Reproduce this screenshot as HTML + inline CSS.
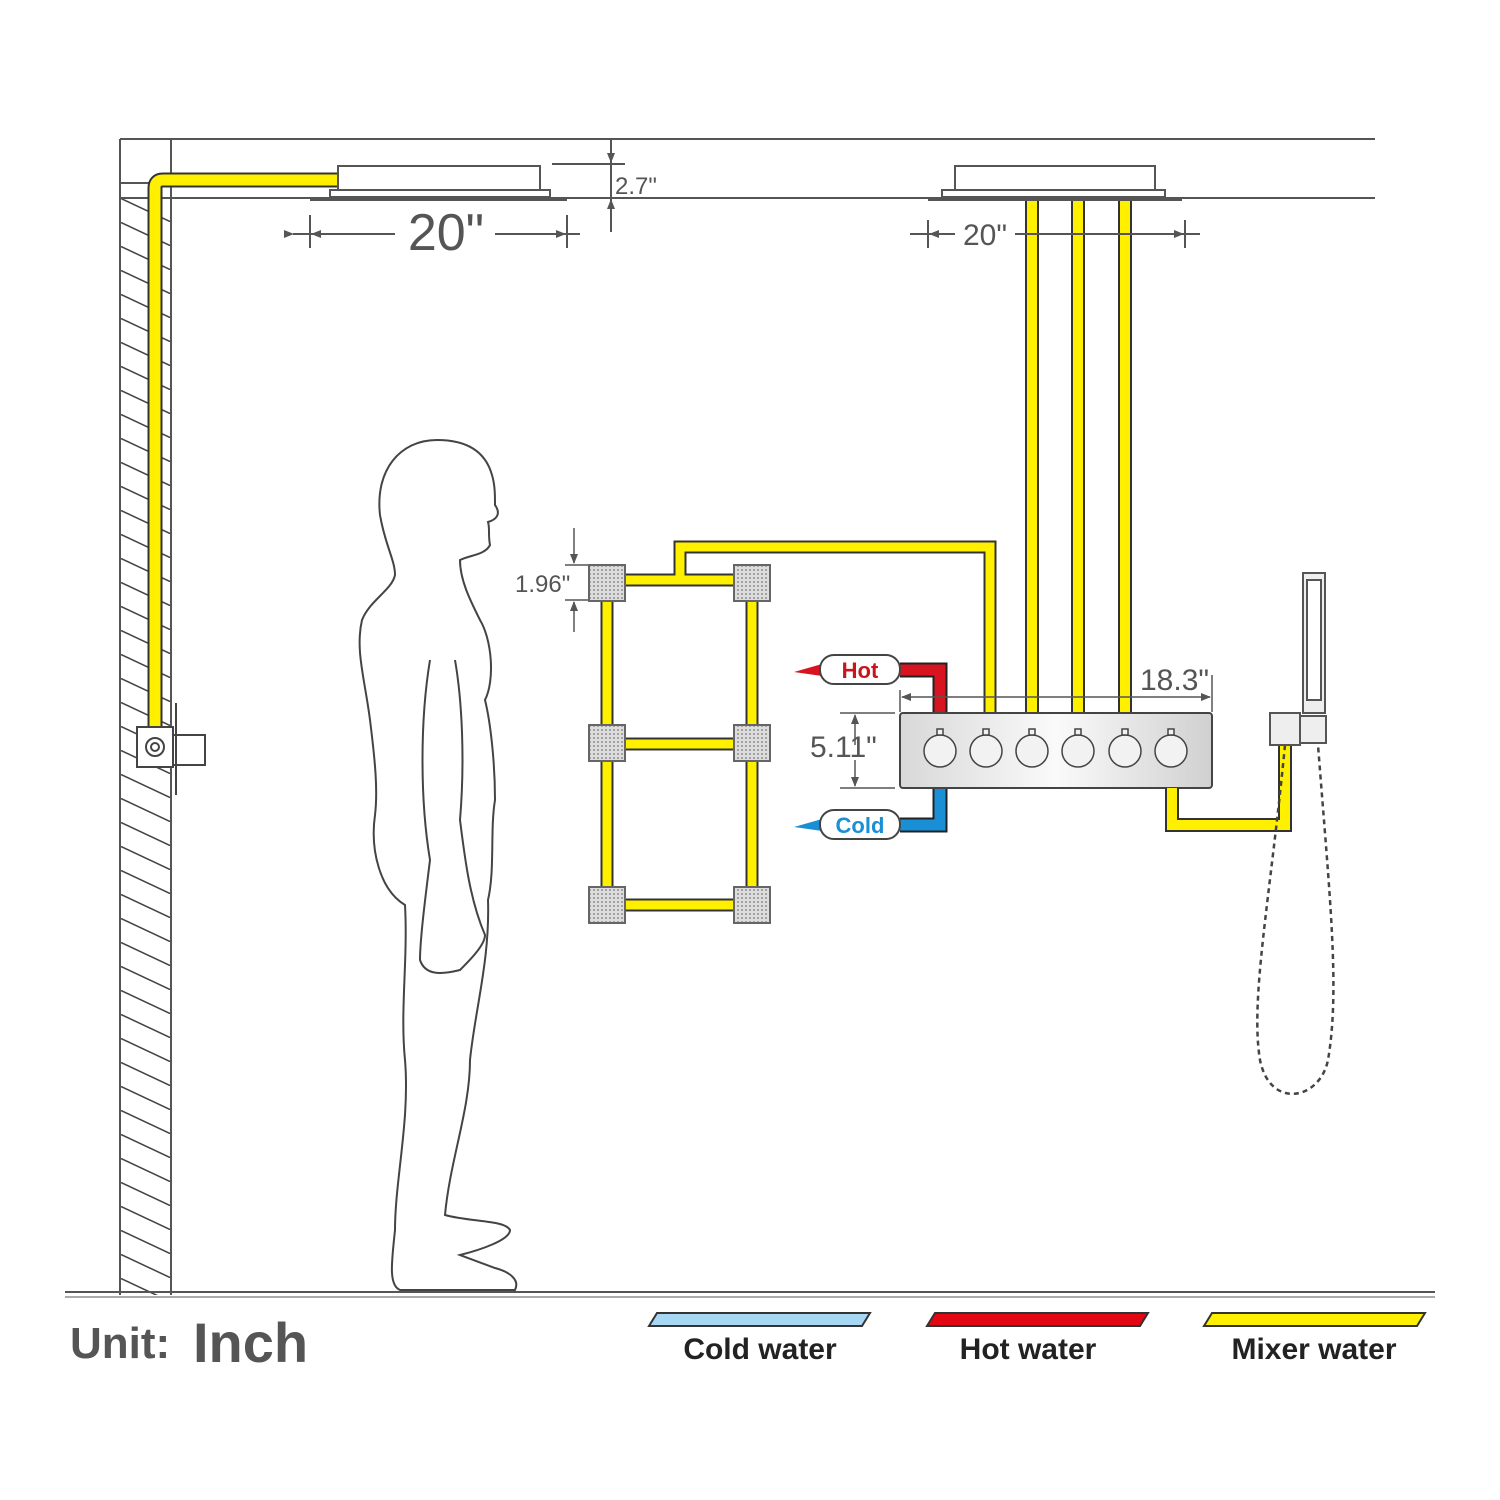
<!DOCTYPE html>
<html><head><meta charset="utf-8"><style>html,body{margin:0;padding:0;background:#fff}svg{display:block}</style></head>
<body>
<svg width="1500" height="1500" viewBox="0 0 1500 1500" xmlns="http://www.w3.org/2000/svg" font-family="Liberation Sans, sans-serif">
<defs>
<pattern id="hatch" width="51" height="24" patternUnits="userSpaceOnUse" patternTransform="translate(120,198)">
<line x1="0" y1="0" x2="51" y2="24" stroke="#444" stroke-width="1.5"/>
</pattern>
<pattern id="dots" width="4" height="4" patternUnits="userSpaceOnUse"><rect width="4" height="4" fill="#ddd"/><circle cx="2" cy="2" r="0.9" fill="#777"/></pattern>
<linearGradient id="vg" x1="0" x2="1"><stop offset="0" stop-color="#d8d8d8"/><stop offset="0.5" stop-color="#fafafa"/><stop offset="1" stop-color="#d0d0d0"/></linearGradient>
<marker id="ar" markerWidth="10" markerHeight="8" refX="9" refY="4" orient="auto" markerUnits="userSpaceOnUse"><path d="M0,0 L10,4 L0,8 z" fill="#555"/></marker>
</defs>
<!-- ceiling / wall -->
<rect x="120" y="198" width="51" height="1097" fill="url(#hatch)"/>
<g stroke="#555" stroke-width="2" fill="none">
<line x1="120" y1="139" x2="1375" y2="139"/>
<line x1="120" y1="198" x2="1375" y2="198"/>
<line x1="120" y1="139" x2="120" y2="1295"/>
<line x1="171" y1="139" x2="171" y2="1295"/>
<line x1="120" y1="183" x2="171" y2="183"/>
<line x1="65" y1="1292" x2="1435" y2="1292"/>
<line x1="65" y1="1297" x2="1435" y2="1297" stroke-width="1"/>
</g>
<!-- left yellow pipe -->
<path d="M155,728 L155,188 Q155,180 163,180 L338,180" stroke="#333" stroke-width="15" fill="none"/>
<path d="M155,728 L155,188 Q155,180 163,180 L338,180" stroke="#fff000" stroke-width="11" fill="none"/>
<!-- left valve -->
<g stroke="#444" stroke-width="2" fill="#fff">
<rect x="137" y="727" width="36" height="40"/>
<circle cx="155" cy="747" r="9"/><circle cx="155" cy="747" r="4"/>
<rect x="173" y="735" width="32" height="30"/>
<line x1="176" y1="703" x2="176" y2="795"/>
</g>
<!-- left head -->
<g stroke="#555" stroke-width="2" fill="#fff">
<rect x="338" y="166" width="202" height="24"/>
<rect x="330" y="190" width="220" height="7"/>
</g>
<rect x="310" y="197" width="257" height="4" fill="#555"/>
<g stroke="#555" stroke-width="2">
<line x1="293" y1="234" x2="395" y2="234" marker-start="url(#ar)" /><line x1="295" y1="234" x2="310" y2="234"/>
<line x1="395" y1="234" x2="312" y2="234" marker-end="url(#ar)"/>
<line x1="495" y1="234" x2="565" y2="234" marker-end="url(#ar)"/><line x1="565" y1="234" x2="580" y2="234"/>
<line x1="310" y1="215" x2="310" y2="248"/><line x1="567" y1="215" x2="567" y2="248"/>
<line x1="552" y1="164" x2="625" y2="164"/>
<line x1="611" y1="140" x2="611" y2="162" marker-end="url(#ar)"/>
<line x1="611" y1="232" x2="611" y2="200" marker-end="url(#ar)"/>
<line x1="611" y1="162" x2="611" y2="200"/>
</g>
<text x="446" y="250" font-size="52" fill="#555" text-anchor="middle">20"</text>
<text x="615" y="194" font-size="24" fill="#555">2.7"</text>
<!-- right head -->
<g stroke="#555" stroke-width="2" fill="#fff">
<rect x="955" y="166" width="200" height="24"/>
<rect x="942" y="190" width="223" height="7"/>
</g>
<rect x="928" y="197" width="254" height="4" fill="#555"/>
<g stroke="#333" stroke-width="14"><line x1="1032" y1="201" x2="1032" y2="713"/><line x1="1078" y1="201" x2="1078" y2="713"/><line x1="1125" y1="201" x2="1125" y2="713"/></g>
<g stroke="#fff000" stroke-width="10"><line x1="1032" y1="201" x2="1032" y2="713"/><line x1="1078" y1="201" x2="1078" y2="713"/><line x1="1125" y1="201" x2="1125" y2="713"/></g>
<g stroke="#555" stroke-width="2">
<line x1="910" y1="234" x2="955" y2="234"/><line x1="955" y1="234" x2="930" y2="234" marker-end="url(#ar)"/>
<line x1="1015" y1="234" x2="1183" y2="234" marker-end="url(#ar)"/><line x1="1183" y1="234" x2="1200" y2="234"/>
<line x1="928" y1="220" x2="928" y2="248"/><line x1="1185" y1="220" x2="1185" y2="248"/>
</g>
<text x="985" y="245" font-size="30" fill="#555" text-anchor="middle">20"</text>
<!-- body jet pipes -->
<path d="M607,583 V905 M752,583 V905 M607,580 H752 M607,744 H752 M607,905 H752 M680,580 V547 H990 V713" stroke="#333" stroke-width="13" fill="none"/>
<path d="M607,583 V905 M752,583 V905 M607,580 H752 M607,744 H752 M607,905 H752 M680,580 V547 H990 V713" stroke="#fff000" stroke-width="9" fill="none"/>
<g stroke="#666" stroke-width="2" fill="url(#dots)">
<rect x="589" y="565" width="36" height="36"/><rect x="734" y="565" width="36" height="36"/>
<rect x="589" y="725" width="36" height="36"/><rect x="734" y="725" width="36" height="36"/>
<rect x="589" y="887" width="36" height="36"/><rect x="734" y="887" width="36" height="36"/>
</g>
<g stroke="#555" stroke-width="1.5">
<line x1="574" y1="528" x2="574" y2="563" marker-end="url(#ar)"/>
<line x1="574" y1="632" x2="574" y2="602" marker-end="url(#ar)"/>
<line x1="565" y1="565" x2="588" y2="565"/><line x1="565" y1="600" x2="588" y2="600"/>
</g>
<text x="515" y="592" font-size="24" fill="#555">1.96"</text>
<!-- hot/cold -->
<path d="M900,670 H940 V713" stroke="#222" stroke-width="15" fill="none"/>
<path d="M900,670 H940 V713" stroke="#d7141f" stroke-width="11" fill="none"/>
<path d="M940,788 V825 H900" stroke="#222" stroke-width="15" fill="none"/>
<path d="M940,788 V825 H900" stroke="#1a8fd6" stroke-width="11" fill="none"/>
<path d="M794,672 L822,664 L822,676 z" fill="#d7141f"/>
<path d="M794,827 L822,819 L822,831 z" fill="#1a8fd6"/>
<rect x="820" y="655" width="80" height="29" rx="14" fill="#fff" stroke="#444" stroke-width="2"/>
<rect x="820" y="810" width="80" height="29" rx="14" fill="#fff" stroke="#444" stroke-width="2"/>
<text x="860" y="678" font-size="22" font-weight="bold" fill="#c8141e" text-anchor="middle">Hot</text>
<text x="860" y="833" font-size="22" font-weight="bold" fill="#1a8fd6" text-anchor="middle">Cold</text>
<!-- valve -->
<rect x="900" y="713" width="312" height="75" rx="3" fill="url(#vg)" stroke="#444" stroke-width="2"/>
<g stroke="#444" stroke-width="1.5" fill="#f2f2f2">
<circle cx="940" cy="751" r="16"/><circle cx="986" cy="751" r="16"/><circle cx="1032" cy="751" r="16"/><circle cx="1078" cy="751" r="16"/><circle cx="1125" cy="751" r="16"/><circle cx="1171" cy="751" r="16"/>
<rect x="937" y="729" width="6" height="6"/><rect x="983" y="729" width="6" height="6"/><rect x="1029" y="729" width="6" height="6"/><rect x="1075" y="729" width="6" height="6"/><rect x="1122" y="729" width="6" height="6"/><rect x="1168" y="729" width="6" height="6"/>
</g>
<g stroke="#555" stroke-width="1.5">
<line x1="1060" y1="697" x2="902" y2="697" marker-end="url(#ar)"/>
<line x1="1060" y1="697" x2="1210" y2="697" marker-end="url(#ar)"/>
<line x1="900" y1="690" x2="900" y2="712"/><line x1="1212" y1="675" x2="1212" y2="712"/>
<line x1="840" y1="713" x2="895" y2="713"/><line x1="840" y1="788" x2="895" y2="788"/>
<line x1="855" y1="745" x2="855" y2="715" marker-end="url(#ar)"/>
<line x1="855" y1="760" x2="855" y2="786" marker-end="url(#ar)"/>
</g>
<text x="1140" y="690" font-size="30" fill="#555">18.3"</text>
<text x="810" y="757" font-size="30" fill="#555">5.11"</text>
<!-- handshower -->
<path d="M1172,788 V825 H1285 V745" stroke="#333" stroke-width="14" fill="none"/>
<path d="M1172,788 V825 H1285 V745" stroke="#fff000" stroke-width="10" fill="none"/>
<path d="M1285,745 C1270,900 1250,1000 1260,1060 C1270,1110 1320,1100 1328,1060 C1340,990 1330,900 1318,745" stroke="#444" stroke-width="2.5" stroke-dasharray="5,4" fill="none"/>
<g stroke="#555" stroke-width="2" fill="#eee">
<rect x="1303" y="573" width="22" height="140"/>
<rect x="1307" y="580" width="14" height="120" fill="#fff"/>
<rect x="1270" y="713" width="30" height="32"/>
<rect x="1300" y="716" width="26" height="27"/>
</g>
<!-- human -->
<path d="M437,440 C400,440 375,470 380,515 C385,545 395,560 395,575 C392,590 370,600 362,620 C355,650 365,680 370,720 C375,760 378,790 375,815 C370,850 380,890 405,905 C408,960 400,1010 405,1060 C410,1120 395,1180 395,1230 C392,1260 388,1285 400,1290 L515,1290 C520,1280 510,1272 495,1268 L460,1255 C480,1250 510,1240 510,1230 C505,1220 470,1222 445,1215 C450,1160 470,1110 470,1060 C475,1010 490,960 488,900 C495,870 490,830 495,800 C495,760 490,720 485,700 C495,680 492,640 480,620 C470,600 460,580 460,560 C470,555 485,555 490,545 C488,535 490,528 488,522 C495,520 502,515 495,505 C495,495 495,485 492,475 C485,450 465,440 437,440 Z" fill="#fff" stroke="#444" stroke-width="2"/>
<path d="M430,660 C420,720 420,800 430,860 C425,900 420,940 420,960 C425,975 440,975 460,970 C470,960 485,945 485,935 C470,900 465,860 460,820 C465,760 462,700 455,660" fill="none" stroke="#444" stroke-width="2"/>
<!-- legend -->
<text x="70" y="1358" font-size="44" font-weight="bold" fill="#555">Unit:</text>
<text x="193" y="1362" font-size="56" font-weight="bold" fill="#555">Inch</text>
<path d="M657,1313 H870 L862,1326 H649 Z" fill="#a7d8f3" stroke="#333" stroke-width="2"/>
<path d="M935,1313 H1148 L1140,1326 H927 Z" fill="#e30613" stroke="#333" stroke-width="2"/>
<path d="M1212,1313 H1425 L1417,1326 H1204 Z" fill="#fff000" stroke="#333" stroke-width="2"/>
<text x="760" y="1359" font-size="30" font-weight="bold" fill="#222" text-anchor="middle">Cold water</text>
<text x="1028" y="1359" font-size="30" font-weight="bold" fill="#222" text-anchor="middle">Hot water</text>
<text x="1314" y="1359" font-size="30" font-weight="bold" fill="#222" text-anchor="middle">Mixer water</text>
</svg>
</body></html>
